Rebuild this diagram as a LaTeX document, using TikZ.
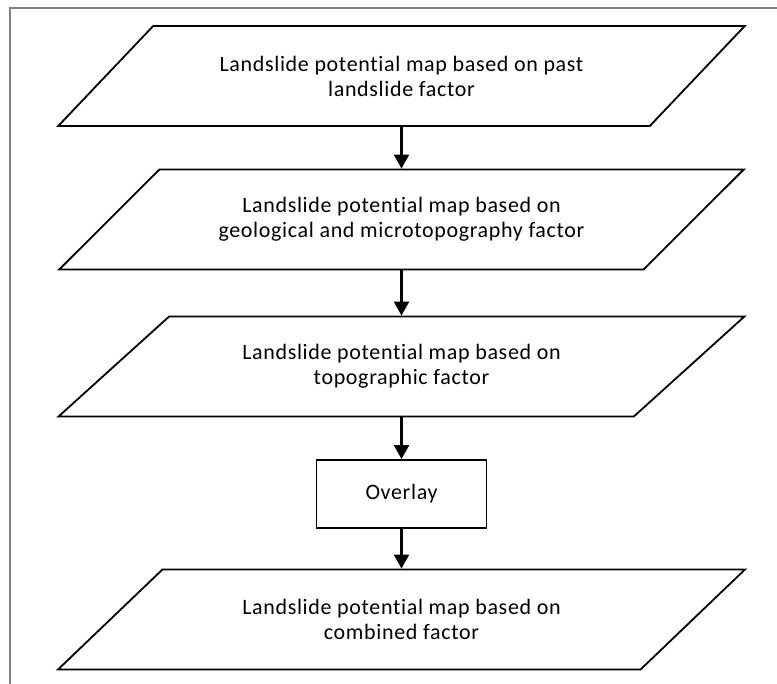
\documentclass[tikz,border=0pt]{standalone}
\usepackage{fontspec}
\setmainfont{Carlito}
\newfontfamily\lblfont[LetterSpace=3,Ligatures=NoCommon]{Carlito}
\usetikzlibrary{shapes.geometric,arrows.meta}
\definecolor{framegray}{RGB}{128,128,128}
\tikzset{
  databox/.style={trapezium, draw, line width=1.8pt, trapezium left angle=30.17, trapezium right angle=149.83,
    trapezium stretches=true, minimum width=688pt, minimum height=100pt, inner sep=0pt,
    align=center, font=\lblfont\fontsize{22}{25}\selectfont},
  procbox/.style={rectangle, draw, line width=1.8pt, minimum width=170pt, minimum height=68pt, inner sep=0pt,
    font=\lblfont\fontsize{22}{25}\selectfont},
  flow/.style={line width=2.2pt, -{Triangle[width=15pt,length=14pt]}}
}
\begin{document}
\begin{tikzpicture}[x=1pt,y=-1pt]
\useasboundingbox (0,0) rectangle (777,684);
\draw[framegray, line width=1.8pt] (10,684) -- (10,8) -- (777,8);
\node[databox] (p1) at (401.5,76) {Landslide potential map based on past\\landslide factor};
\node[databox] (p2) at (401.5,219.5) {Landslide potential map based on\\geological and microtopography factor};
\node[databox] (p3) at (401.5,366.5) {Landslide potential map based on\\topographic factor};
\node[procbox] (ov) at (401.5,494) {Overlay};
\node[databox] (p5) at (401.5,619.5) {Landslide potential map based on\\combined factor};
\draw[flow] (p1.center |- p1.south) -- (p2.center |- p2.north);
\draw[flow] (p2.center |- p2.south) -- (p3.center |- p3.north);
\draw[flow] (p3.center |- p3.south) -- (ov.north);
\draw[flow] (ov.south) -- (p5.center |- p5.north);
\end{tikzpicture}
\end{document}
